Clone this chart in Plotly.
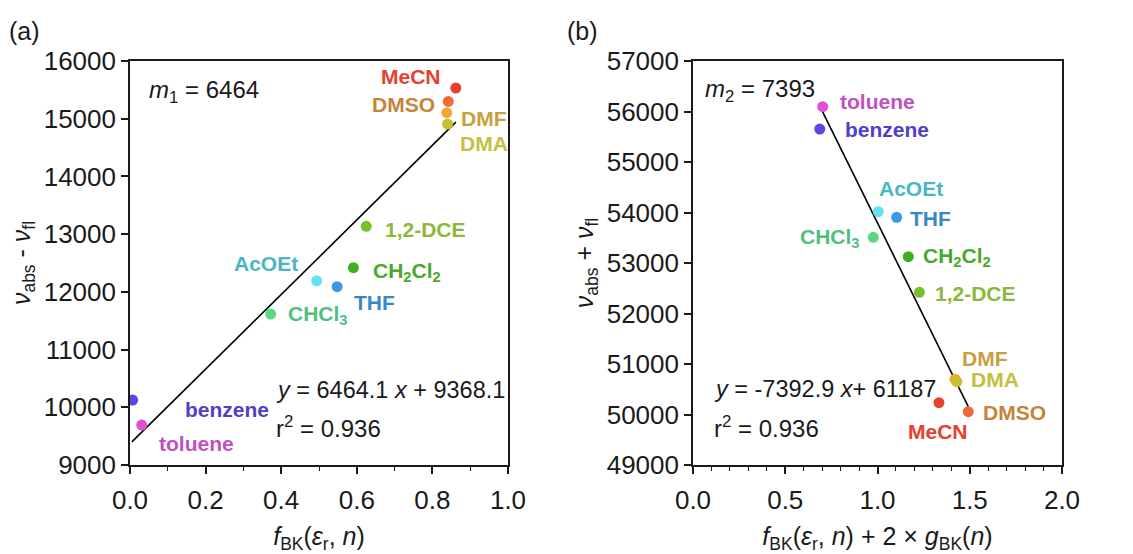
import plotly.graph_objects as go

# ---------------- data ----------------
solvents = ["MeCN", "DMSO", "DMF", "DMA", "1,2-DCE", "CH2Cl2", "AcOEt", "THF", "CHCl3", "benzene", "toluene"]
labels_html = ["MeCN", "DMSO", "DMF", "DMA", "1,2-DCE", "CH<sub>2</sub>Cl<sub>2</sub>", "AcOEt", "THF",
               "CHCl<sub>3</sub>", "benzene", "toluene"]
dot_colors = ["#e8412e", "#ef6a35", "#f4a638", "#c8c030", "#78c028", "#3cb020", "#60e2f2", "#3a98e8",
              "#5cd884", "#5a48e0", "#e050d0"]
text_colors = ["#e84030", "#c4843c", "#c8a040", "#c4c040", "#8cb83a", "#4aa82c", "#48b8c0", "#3888c8",
               "#50c080", "#5040c8", "#c050c0"]

# panel (a): f_BK vs (nu_abs - nu_fl)
fa_x = [0.862, 0.842, 0.838, 0.840, 0.625, 0.591, 0.494, 0.548, 0.372, 0.007, 0.031]
fa_y = [15532, 15300, 15104, 14908, 13135, 12418, 12192, 12089, 11615, 10125, 9692]
slope_a, icpt_a = 6464.1, 9368.1
fit_a_x = [0.005, 0.862]

# panel (b): f_BK + 2 g_BK vs (nu_abs + nu_fl)
fb_x = [1.333, 1.492, 1.420, 1.430, 1.227, 1.167, 1.004, 1.104, 0.977, 0.687, 0.703]
fb_y = [50234, 50056, 50700, 50650, 52420, 53125, 54016, 53904, 53508, 55653, 56095]
slope_b, icpt_b = -7392.9, 61187
fit_b_x = [0.700, 1.492]

# label anchor positions (data coordinates) : (x, y, xanchor)
lab_a = [(0.828, 15723, "right"), (0.812, 15255, "right"), (0.871, 15012, "left"), (0.869, 14579, "left"),
         (0.669, 13089, "left"), (0.638, 12344, "left"), (0.450, 12499, "right"), (0.587, 11823, "left"),
         (0.413, 11598, "left"), (0.140, 9969, "left"), (0.071, 9380, "left")]
lab_b = [(1.330, 49660, "center"), (1.559, 50044, "left"), (1.583, 51113, "center"), (1.498, 50684, "left"),
         (1.303, 52400, "left"), (1.234, 53113, "left"), (1.180, 54479, "center"), (1.167, 53885, "left"),
         (0.914, 53489, "right"), (0.811, 55647, "left"), (0.788, 56194, "left")]

FONT = "Liberation Sans, Arial, sans-serif"
W, H = 1133, 554

fig = go.Figure()

# fit lines
fig.add_trace(go.Scatter(x=fit_a_x, y=[slope_a * v + icpt_a for v in fit_a_x], mode="lines",
                         line=dict(color="black", width=1.6), xaxis="x", yaxis="y", showlegend=False,
                         hoverinfo="skip"))
fig.add_trace(go.Scatter(x=fit_b_x, y=[slope_b * v + icpt_b for v in fit_b_x], mode="lines",
                         line=dict(color="black", width=1.6), xaxis="x2", yaxis="y2", showlegend=False,
                         hoverinfo="skip"))

# points
fig.add_trace(go.Scatter(x=fa_x, y=fa_y, mode="markers", text=solvents,
                         marker=dict(color=dot_colors, size=11, line=dict(width=0)),
                         xaxis="x", yaxis="y", showlegend=False))
fig.add_trace(go.Scatter(x=fb_x, y=fb_y, mode="markers", text=solvents,
                         marker=dict(color=dot_colors, size=11, line=dict(width=0)),
                         xaxis="x2", yaxis="y2", showlegend=False))

annotations = []
for i, lab in enumerate(labels_html):
    for (xx, yy, anc), xr, yr in [(lab_a[i], "x", "y"), (lab_b[i], "x2", "y2")]:
        annotations.append(dict(x=xx, y=yy, xref=xr, yref=yr, text="<b>" + lab + "</b>", showarrow=False,
                                xanchor=anc, yanchor="middle",
                                font=dict(family=FONT, size=21, color=text_colors[i])))

def txt(x, y, xr, yr, t, size=24, anchor="left"):
    annotations.append(dict(x=x, y=y, xref=xr, yref=yr, text=t, showarrow=False, xanchor=anchor,
                            yanchor="middle", font=dict(family=FONT, size=size, color="#1a1a1a")))

txt(0.045, 15480, "x", "y", "<i>m</i><sub>1</sub> = 6464")
txt(0.381, 10298, "x", "y", "<i>y</i> = 6464.1 <i>x</i> + 9368.1", size=23.5)
txt(0.381, 9657, "x", "y", "r<sup>2</sup> = 0.936")
txt(0.056, 56412, "x2", "y2", "<i>m</i><sub>2</sub> = 7393")
txt(0.101, 50500, "x2", "y2", "<i>y</i> = -7392.9 <i>x</i>+ 61187", size=23.5)
txt(0.101, 49747, "x2", "y2", "r<sup>2</sup> = 0.936")

# panel letters
annotations.append(dict(x=7 / W, y=1 - 31 / H, xref="paper", yref="paper", text="(a)", showarrow=False,
                        xanchor="left", yanchor="middle", font=dict(family=FONT, size=25, color="#1a1a1a")))
annotations.append(dict(x=565 / W, y=1 - 31 / H, xref="paper", yref="paper", text="(b)", showarrow=False,
                        xanchor="left", yanchor="middle", font=dict(family=FONT, size=25, color="#1a1a1a")))

axis_common = dict(showline=True, linecolor="#1a1a1a", linewidth=1.6, mirror=True, ticks="outside",
                   ticklen=7, tickwidth=1.6, tickcolor="#1a1a1a", showgrid=False, zeroline=False,
                   tickfont=dict(family=FONT, size=26, color="#1a1a1a"),
                   title_font=dict(family=FONT, size=25, color="#1a1a1a"), automargin=False)

ydom = [1 - 465 / H, 1 - 61 / H]
fig.update_layout(
    width=W, height=H, margin=dict(l=0, r=0, t=0, b=0),
    plot_bgcolor="white", paper_bgcolor="white",
    xaxis=dict(domain=[130 / W, 508 / W], range=[0, 1.0], tickvals=[0, 0.2, 0.4, 0.6, 0.8, 1.0],
               ticktext=["0.0", "0.2", "0.4", "0.6", "0.8", "1.0"], ticklabelstandoff=4,
               minor=dict(dtick=0.1, ticks="outside", ticklen=4, tickwidth=1.4, tickcolor="#1a1a1a"),
               title=dict(text="<i>f</i><sub>BK</sub>(<i>ε</i><sub>r</sub>, <i>n</i>)", standoff=14),
               anchor="y", **axis_common),
    yaxis=dict(domain=ydom, range=[9000, 16000], dtick=1000, tickformat="d",
               title=dict(text="<i>ν</i><sub>abs</sub> - <i>ν</i><sub>fl</sub>", standoff=6),
               anchor="x", **axis_common),
    xaxis2=dict(domain=[693 / W, 1062 / W], range=[0, 2.0], tickvals=[0, 0.5, 1.0, 1.5, 2.0],
                ticktext=["0.0", "0.5", "1.0", "1.5", "2.0"], ticklabelstandoff=4,
                minor=dict(dtick=0.1, ticks="outside", ticklen=4, tickwidth=1.4, tickcolor="#1a1a1a"),
                title=dict(text="<i>f</i><sub>BK</sub>(<i>ε</i><sub>r</sub>, <i>n</i>) + 2 × <i>g</i><sub>BK</sub>(<i>n</i>)",
                           standoff=14),
                anchor="y2", **axis_common),
    yaxis2=dict(domain=ydom, range=[49000, 57000], dtick=1000, tickformat="d",
                title=dict(text="<i>ν</i><sub>abs</sub> + <i>ν</i><sub>fl</sub>", standoff=6),
                anchor="x2", **axis_common),
    annotations=annotations,
)

fig.write_html("out.html", config={"displayModeBar": False},
               post_script="document.body.style.margin='0';document.body.style.padding='0';")
